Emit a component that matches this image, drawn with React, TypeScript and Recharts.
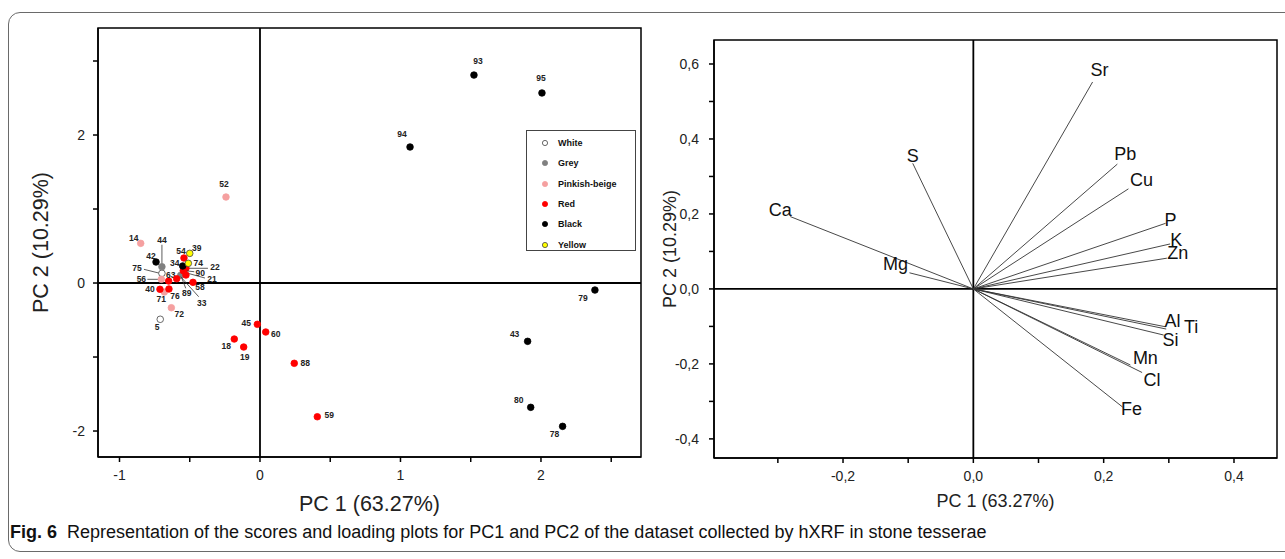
import React from 'react'
import { ScatterChart, Scatter, XAxis, YAxis, ReferenceLine, ReferenceArea, Legend, Label } from 'recharts'

// ---- scores (left plot) ----
const whitePts = [
  { id: '5', pc1: -0.71, pc2: -0.49 },
  { id: '75', pc1: -0.698, pc2: 0.131 },
]
const greyPts = [
  { id: '44', pc1: -0.698, pc2: 0.22 },
  { id: '89', pc1: -0.564, pc2: 0.104 },
]
const pinkPts = [
  { id: '52', pc1: -0.242, pc2: 1.162 },
  { id: '14', pc1: -0.849, pc2: 0.536 },
  { id: '56', pc1: -0.702, pc2: 0.05 },
  { id: '71', pc1: -0.681, pc2: -0.122 },
  { id: '72', pc1: -0.631, pc2: -0.334 },
]
const redPts = [
  { id: '45', pc1: -0.019, pc2: -0.558 },
  { id: '60', pc1: 0.041, pc2: -0.662 },
  { id: '18', pc1: -0.183, pc2: -0.757 },
  { id: '19', pc1: -0.116, pc2: -0.865 },
  { id: '88', pc1: 0.244, pc2: -1.085 },
  { id: '59', pc1: 0.408, pc2: -1.807 },
  { id: '63', pc1: -0.65, pc2: 0.027 },
  { id: '40', pc1: -0.712, pc2: -0.085 },
  { id: '76', pc1: -0.648, pc2: -0.081 },
  { id: '54', pc1: -0.541, pc2: 0.338 },
  { id: '22', pc1: -0.527, pc2: 0.199 },
  { id: '90', pc1: -0.546, pc2: 0.166 },
  { id: '21', pc1: -0.527, pc2: 0.108 },
  { id: '33', pc1: -0.593, pc2: 0.058 },
  { id: '58', pc1: -0.477, pc2: 0.009 },
]
const blackPts = [
  { id: '93', pc1: 1.523, pc2: 2.81 },
  { id: '95', pc1: 2.007, pc2: 2.568 },
  { id: '94', pc1: 1.068, pc2: 1.838 },
  { id: '79', pc1: 2.384, pc2: -0.095 },
  { id: '43', pc1: 1.905, pc2: -0.788 },
  { id: '80', pc1: 1.927, pc2: -1.68 },
  { id: '78', pc1: 2.154, pc2: -1.937 },
  { id: '42', pc1: -0.74, pc2: 0.284 },
  { id: '34', pc1: -0.55, pc2: 0.23 },
]
const yellowPts = [
  { id: '39', pc1: -0.5, pc2: 0.401 },
  { id: '74', pc1: -0.51, pc2: 0.266 },
]

const groups = [
  { name: 'White', data: whitePts, fill: '#ffffff', stroke: '#444' },
  { name: 'Grey', data: greyPts, fill: '#808080', stroke: '#808080' },
  { name: 'Pinkish-beige', data: pinkPts, fill: '#f5a0a0', stroke: '#f5a0a0' },
  { name: 'Red', data: redPts, fill: '#ff0000', stroke: '#ff0000' },
  { name: 'Black', data: blackPts, fill: '#000000', stroke: '#000000' },
  { name: 'Yellow', data: yellowPts, fill: '#ffff00', stroke: '#444' },
]

// label placement around each dot (px)
const scoreLabelPos: Record<string, [number, number]> = {
  '93': [4, -14], '95': [-1, -15], '94': [-8, -13], '52': [-2, -13], '14': [-7, -5],
  '44': [0, -27], '42': [-5, -6], '75': [-25, -5], '56': [-20, 0], '63': [2, -6],
  '40': [-10, 0], '71': [-3, 7], '76': [6, 7], '72': [8, 6], '5': [-3, 8],
  '54': [-3, -7], '39': [7, -5], '34': [-8, -3], '74': [10, 0], '22': [29, -1],
  '90': [17, 2], '21': [26, 4], '89': [6, 18], '33': [25, 24], '58': [7, 5],
  '45': [-11, -1], '60': [10, 2], '18': [-8, 7], '19': [1, 10], '88': [11, 0],
  '59': [12, -2], '79': [-12, 8], '43': [-13, -7], '80': [-12, -7], '78': [-8, 8],
}
const scoreLeaders: Record<string, [number, number, number, number]> = {
  '44': [0, -3, 0, -22],
  '75': [-18, -4, -2, 0],
  '56': [-14, 0, -3, 0],
  '22': [2, 0, 22, 0],
  '90': [2, 0, 11, 1],
  '21': [1, -2, 19, 3],
  '89': [0, 0, 5, 13],
  '33': [4, -2, 22, 18],
}

// ---- loadings (right plot) ----
const elements = ['Sr', 'S', 'Pb', 'Cu', 'Ca', 'Mg', 'P', 'K', 'Zn', 'Al', 'Ti', 'Si', 'Mn', 'Cl', 'Fe']
const loadPC1 = [0.183, -0.093, 0.221, 0.238, -0.281, -0.098, 0.295, 0.302, 0.297, 0.295, 0.296, 0.292, 0.241, 0.259, 0.229]
const loadPC2 = [0.552, 0.335, 0.333, 0.267, 0.193, 0.043, 0.175, 0.12, 0.082, -0.101, -0.107, -0.123, -0.203, -0.223, -0.315]
const loadings = elements.map((el, i) => ({ el, pc1: loadPC1[i], pc2: loadPC2[i] }))

const loadLabelPos: Record<string, [number, number]> = {
  Sr: [7, -12], S: [0, -8], Pb: [8, -10], Cu: [13, -9], Ca: [-10, -7], Mg: [-14, -9],
  P: [5, -4], K: [6, -4], Zn: [11, -5], Al: [7, -6], Ti: [25, -2], Si: [7, 5],
  Mn: [15, -7], Cl: [10, 7], Fe: [9, 2],
}

const FONT = '"Liberation Sans", Arial, sans-serif'

const scoreShape = (fill: string, stroke: string) => (props: any) => {
  const { cx, cy, payload } = props
  const [dx, dy] = scoreLabelPos[payload.id] ?? [0, -9]
  const lead = scoreLeaders[payload.id]
  return (
    <g>
      {lead && (
        <line x1={cx + lead[0]} y1={cy + lead[1]} x2={cx + lead[2]} y2={cy + lead[3]} stroke="#333" strokeWidth={0.8} />
      )}
      <circle cx={cx} cy={cy} r={3.3} fill={fill} stroke={stroke} strokeWidth={0.8} />
      <text x={cx + dx} y={cy + dy} dy="0.35em" textAnchor="middle" fontSize={8.5} fontWeight="bold" fill="#222">
        {payload.id}
      </text>
    </g>
  )
}

const loadLabel = (props: any) => {
  const { cx, cy, payload } = props
  const [dx, dy] = loadLabelPos[payload.el] ?? [0, 0]
  return (
    <text x={cx + dx} y={cy + dy} dy="0.35em" textAnchor="middle" fontSize={18} fill="#111">
      {payload.el}
    </text>
  )
}

const leftXTick = (props: any) => {
  const { x, y, payload } = props
  if (!Number.isInteger(payload.value)) return <g />
  return (
    <text x={x} y={y} dy="0.71em" textAnchor="middle" fontSize={14} fill="#222">{payload.value}</text>
  )
}
const leftYTick = (props: any) => {
  const { x, y, payload } = props
  if (payload.value % 2 !== 0) return <g />
  return (
    <text x={x} y={y} dy="0.35em" textAnchor="end" fontSize={14} fill="#222">{payload.value}</text>
  )
}
const fmtComma = (v: number) => v.toFixed(1).replace('.', ',')
const isEvenTenth = (v: number) => Math.round(v * 10) % 2 === 0
const rightXTick = (props: any) => {
  const { x, y, payload } = props
  if (!isEvenTenth(payload.value)) return <g />
  return (
    <text x={x} y={y} dy="0.71em" textAnchor="middle" fontSize={14} fill="#222">{fmtComma(payload.value)}</text>
  )
}
const rightYTick = (props: any) => {
  const { x, y, payload } = props
  if (!isEvenTenth(payload.value)) return <g />
  return (
    <text x={x} y={y} dy="0.35em" textAnchor="end" fontSize={14} fill="#222">{fmtComma(payload.value)}</text>
  )
}

const LegendBox = () => (
  <div style={{ border: '1px solid #444', background: '#fff', width: 110, height: 121, boxSizing: 'border-box', paddingTop: 2 }}>
    {groups.map(g => (
      <div key={g.name} style={{ display: 'flex', alignItems: 'center', height: 20.3, fontFamily: FONT, fontSize: 9, fontWeight: 'bold', color: '#111' }}>
        <svg width={30} height={10} style={{ flex: 'none' }}>
          <circle cx={18} cy={5} r={2.6} fill={g.fill} stroke={g.stroke} strokeWidth={0.8} />
        </svg>
        <span style={{ marginLeft: 1 }}>{g.name}</span>
      </div>
    ))}
  </div>
)

const LX: [number, number] = [-1.153, 2.712]
const LY: [number, number] = [-2.351, 3.446]
const RX: [number, number] = [-0.398, 0.466]
const RY: [number, number] = [-0.451, 0.664]

export default function App() {
  return (
    <div style={{ position: 'absolute', left: 0, top: 0, width: 1285, height: 559, overflow: 'hidden', background: '#fff', fontFamily: FONT }}>
      <div style={{ position: 'absolute', left: 8, top: 12, width: 1300, height: 538, border: '1.3px solid #6a6a6a', borderRadius: 12 }} />

      <div style={{ position: 'absolute', left: 0, top: 0 }}>
        <ScatterChart width={660} height={520} margin={{ top: 28, right: 19, bottom: 8, left: 38 }} style={{ fontFamily: FONT }}>
          <XAxis type="number" dataKey="pc1" domain={LX} allowDataOverflow ticks={[-1, -0.5, 0, 0.5, 1, 1.5, 2, 2.5]}
            height={55} tickSize={5} tickMargin={8} tick={leftXTick} stroke="#000" strokeWidth={1.5}>
            <Label value="PC 1 (63.27%)" position="insideBottom" offset={1} style={{ fontSize: 21.5, fill: '#222', fontFamily: FONT }} />
          </XAxis>
          <YAxis type="number" dataKey="pc2" domain={LY} allowDataOverflow ticks={[-2, -1, 0, 1, 2, 3]}
            width={60} tickSize={5} tickMargin={8} tick={leftYTick} stroke="#000" strokeWidth={1.5}>
            <Label value="PC 2 (10.29%)" angle={-90} position="insideLeft" offset={2} style={{ fontSize: 21.5, fill: '#222', textAnchor: 'middle', fontFamily: FONT }} />
          </YAxis>
          <ReferenceArea x1={LX[0]} x2={LX[1]} y1={LY[0]} y2={LY[1]} fill="none" fillOpacity={0} stroke="#000" strokeWidth={1.5} />
          <ReferenceLine x={0} stroke="#000" strokeWidth={1.8} />
          <ReferenceLine y={0} stroke="#000" strokeWidth={1.8} />
          {groups.map(g => (
            <Scatter key={g.name} name={g.name} data={g.data} fill={g.fill} isAnimationActive={false} shape={scoreShape(g.fill, g.stroke)} />
          ))}
          <Legend layout="horizontal" verticalAlign="middle" align="center" content={() => <LegendBox />}
            wrapperStyle={{ position: 'absolute', left: 526, top: 130, width: 111, height: 122 }} />
        </ScatterChart>
      </div>

      <div style={{ position: 'absolute', left: 660, top: 0 }}>
        <ScatterChart width={625} height={520} margin={{ top: 40, right: 8, bottom: 7, left: 8 }} style={{ fontFamily: FONT }}>
          <XAxis type="number" dataKey="pc1" domain={RX} allowDataOverflow ticks={[-0.3, -0.2, -0.1, 0, 0.1, 0.2, 0.3, 0.4]}
            height={55} tickSize={5} tickMargin={8} tick={rightXTick} stroke="#000" strokeWidth={1.5}>
            <Label value="PC 1 (63.27%)" position="insideBottom" offset={6} style={{ fontSize: 18, fill: '#222', fontFamily: FONT }} />
          </XAxis>
          <YAxis type="number" dataKey="pc2" domain={RY} allowDataOverflow ticks={[-0.4, -0.3, -0.2, -0.1, 0, 0.1, 0.2, 0.3, 0.4, 0.5, 0.6]}
            width={46} tickSize={5} tickMargin={10} tick={rightYTick} stroke="#000" strokeWidth={1.5}>
            <Label value="PC 2 (10.29%)" angle={-90} position="insideLeft" offset={2} style={{ fontSize: 18, fill: '#222', textAnchor: 'middle', fontFamily: FONT }} />
          </YAxis>
          <ReferenceArea x1={RX[0]} x2={RX[1]} y1={RY[0]} y2={RY[1]} fill="none" fillOpacity={0} stroke="#000" strokeWidth={1.5} />
          <ReferenceLine x={0} stroke="#000" strokeWidth={1.8} />
          <ReferenceLine y={0} stroke="#000" strokeWidth={1.8} />
          {loadings.map(d => (
            <ReferenceLine key={d.el} segment={[{ x: 0, y: 0 }, { x: d.pc1, y: d.pc2 }]} stroke="#333" strokeWidth={0.9} ifOverflow="visible" />
          ))}
          <Scatter name="loadings" data={loadings} isAnimationActive={false} shape={loadLabel} />
        </ScatterChart>
      </div>

      <div style={{ position: 'absolute', left: 10, top: 522, fontFamily: FONT, fontSize: 18, color: '#111', whiteSpace: 'nowrap' }}>
        <b>Fig. 6</b>&nbsp;&nbsp;Representation of the scores and loading plots for PC1 and PC2 of the dataset collected by hXRF in stone tesserae
      </div>
    </div>
  )
}
